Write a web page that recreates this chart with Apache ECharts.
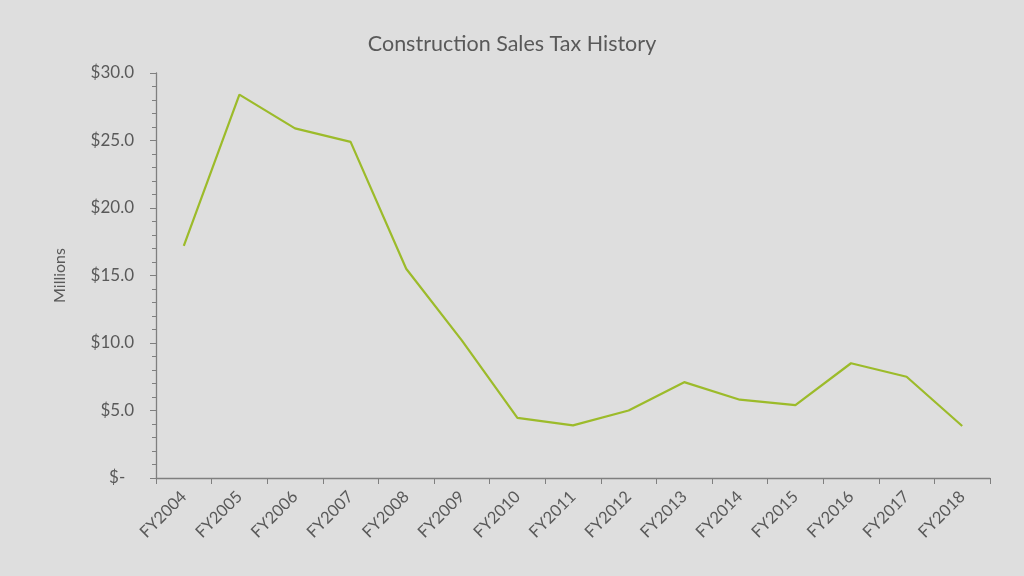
<!DOCTYPE html>
<html><head><meta charset="utf-8">
<script src="https://cdn.jsdelivr.net/npm/echarts@6/dist/echarts.min.js"></script>
<style>html,body{margin:0;padding:0;background:#dedede;}#c{width:1024px;height:576px;}</style>
</head><body><div id="c"></div>
<script>
const categories = ["FY2004","FY2005","FY2006","FY2007","FY2008","FY2009","FY2010","FY2011","FY2012","FY2013","FY2014","FY2015","FY2016","FY2017","FY2018"];
const salesTax = [17.2, 28.4, 25.9, 24.9, 15.5, 10.2, 4.45, 3.9, 5.0, 7.1, 5.8, 5.4, 8.5, 7.5, 3.85];
const yTicks = {min: 0, max: 30, interval: 5};

const chart = echarts.init(document.getElementById('c'));
const txt = '#595959';
const font = 'Lato';
chart.setOption({
  backgroundColor: '#dedede',
  animation: false,
  title: {text: 'Construction Sales Tax History', left: 'center', top: 28,
    textStyle: {color: txt, fontFamily: font, fontWeight: 'normal', fontSize: 21.5}},
  grid: {left: 156, right: 34, top: 73, bottom: 98, containLabel: false},
  xAxis: {type: 'category', data: categories, boundaryGap: true,
    axisLine: {lineStyle: {color: '#7f7f7f', width: 1.3}},
    axisTick: {show: true, length: 6, lineStyle: {color: '#7f7f7f'}},
    axisLabel: {rotate: 45, color: txt, fontFamily: font, fontSize: 16.5, margin: 16}},
  yAxis: {type: 'value', min: yTicks.min, max: yTicks.max, interval: yTicks.interval,
    name: 'Millions', nameLocation: 'middle', nameGap: 88, nameRotate: 90,
    nameTextStyle: {color: txt, fontFamily: font, fontSize: 16},
    axisLine: {show: true, lineStyle: {color: '#7f7f7f', width: 1.3}},
    axisTick: {show: true, length: 6, lineStyle: {color: '#7f7f7f'}},
    minorTick: {show: true, splitNumber: 5, length: 4, lineStyle: {color: '#7f7f7f'}},
    splitLine: {show: false},
    axisLabel: {color: txt, fontFamily: font, fontSize: 17, margin: 22,
      formatter: v => v === 0 ? '$-  ' : '$' + v.toFixed(1)}},
  series: [{type: 'line', data: salesTax, symbol: 'none',
    lineStyle: {color: '#9cbb2a', width: 2.2}}]
});
</script></body></html>
